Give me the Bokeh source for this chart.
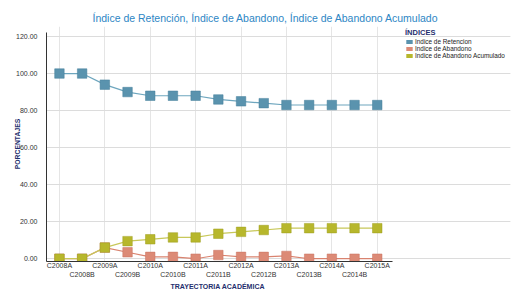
from bokeh.plotting import figure
from bokeh.models import (Range1d, FixedTicker, LinearAxis, Legend, LegendItem,
                          NumeralTickFormatter, Grid, Title)
from bokeh.embed import file_html
from bokeh.resources import INLINE

categories = ["C2008A", "C2008B", "C2009A", "C2009B", "C2010A", "C2010B",
              "C2011A", "C2011B", "C2012A", "C2012B", "C2013A", "C2013B",
              "C2014A", "C2014B", "C2015A"]
retencion = [100, 100, 94, 90, 88, 88, 88, 86, 85, 84, 83, 83, 83, 83, 83]
abandono = [0, 0, 6, 3.5, 1, 1, 0, 2, 1, 1, 1.5, 0, 0, 0, 0]
acumulado = [0, 0, 6, 9.5, 10.5, 11.5, 11.5, 13.5, 14.5, 15.5, 16.5, 16.5, 16.5, 16.5, 16.5]
y_ticks = [0, 20, 40, 60, 80, 100, 120]
series_names = ["Indice de Retencion", "Indice de Abandono", "Indice de Abandono Acumulado"]

xs = list(range(len(categories)))
NAVY = "#1f2f6e"
FONT = "Liberation Sans"
X0, X1 = -0.57, 14.66

p = figure(width=515, height=289, output_backend="svg", toolbar_location=None,
           x_range=Range1d(X0, 19.87), y_range=Range1d(-1.5, 125.4),
           x_axis_location=None, y_axis_location=None,
           min_border_left=46, min_border_right=5, min_border_top=26, min_border_bottom=0,
           outline_line_color=None)

p.title.text = "Índice de Retención, Índice de Abandono, Índice de Abandono Acumulado"
p.title.align = "left"
p.title.offset = 46
p.title.standoff = 5
p.title.text_font = FONT
p.title.text_font_size = "10.5px"
p.title.text_font_style = "normal"
p.title.text_color = "#2d86c4"

yaxis = LinearAxis(ticker=FixedTicker(ticks=y_ticks),
                   formatter=NumeralTickFormatter(format="0.00"),
                   axis_label="PORCENTAJES", bounds=(-1.5, 122))
yaxis.axis_label_text_font = FONT
yaxis.axis_label_text_font_size = "6.8px"
yaxis.axis_label_text_font_style = "bold"
yaxis.axis_label_text_color = NAVY
yaxis.major_label_text_font = FONT
yaxis.major_label_text_font_size = "7px"
yaxis.major_label_text_color = "#333333"
yaxis.major_tick_line_color = None
yaxis.minor_tick_line_color = None
yaxis.axis_line_color = "#333333"
yaxis.major_label_standoff = 3
yaxis.axis_label_standoff = -8
p.add_layout(yaxis, "left")

# A-semesters on the first row, B-semesters on the second row
overrides = {i: (c if i % 2 == 0 else "\n" + c) for i, c in zip(xs, categories)}
xa = LinearAxis(ticker=FixedTicker(ticks=xs), major_label_overrides=overrides,
                bounds=(X0, X1))
xa.major_label_text_font = FONT
xa.major_label_text_font_size = "7px"
xa.major_label_text_color = "#333333"
xa.major_tick_line_color = None
xa.minor_tick_line_color = None
xa.major_tick_out = 0
xa.major_tick_in = 0
xa.major_label_standoff = 0
xa.major_label_text_line_height = 1.3
xa.axis_line_color = "#333333"
p.add_layout(xa, "below")

xtitle = Title(text="TRAYECTORIA ACADÉMICA", align="left", offset=124,
               text_font=FONT, text_font_size="7px", text_font_style="bold",
               text_color=NAVY, standoff=0)
p.add_layout(xtitle, "below")

p.add_layout(Grid(dimension=1, ticker=yaxis.ticker, grid_line_color="#dcdcdc",
                  bounds=(X0, X1)))

specs = [
    (retencion, "#6ea6be", "#5a93ae", "#457f9b"),
    (abandono, "#d9836f", "#dc8a76", "#c87360"),
    (acumulado, "#c8c85a", "#b7b72c", "#9e9e1e"),
]
items = []
for name, (vals, lc, fc, ec) in zip(series_names, specs):
    p.line(xs, vals, line_color=lc, line_width=1.2)
    p.scatter(xs, vals, marker="square", size=9.5, fill_color=fc, line_color=ec, line_width=0.5)
    # zero-area boxes at the data points: invisible in the plot, used as the legend swatch
    q = p.quad(left=xs, right=xs, top=vals, bottom=vals, fill_color=fc, line_color=None)
    items.append(LegendItem(label=name, renderers=[q], index=0))

legend = Legend(items=items, title="ÍNDICES", location=(359, 202))
legend.title_text_font = FONT
legend.title_text_font_size = "7.5px"
legend.title_text_font_style = "bold"
legend.title_text_color = NAVY
legend.title_standoff = 1
legend.label_text_font = FONT
legend.label_text_font_size = "6.4px"
legend.label_text_line_height = 0.8
legend.label_text_color = "#222222"
legend.label_height = 4
legend.label_standoff = 2
legend.glyph_width = 8
legend.glyph_height = 5
legend.spacing = 0
legend.padding = 2
legend.margin = 0
legend.border_line_color = None
legend.background_fill_alpha = 0
p.add_layout(legend)

open("out.html", "w").write(file_html(p, INLINE))
